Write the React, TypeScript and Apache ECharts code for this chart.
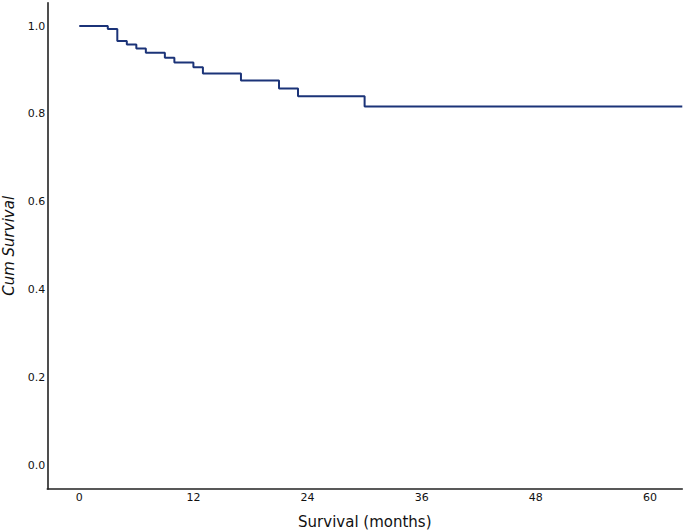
import React, { useEffect, useRef } from "react";
import * as echarts from "echarts";

const times = [0, 3, 4, 5, 6, 7, 9, 10, 12, 13, 17, 21, 23, 30, 63.4];
const survival = [1.0, 0.993, 0.966, 0.958, 0.949, 0.939, 0.928, 0.917, 0.906, 0.892, 0.876, 0.858, 0.84, 0.817, 0.817];
const xTicks = [0, 12, 24, 36, 48, 60];
const yTicks = [0, 0.2, 0.4, 0.6, 0.8, 1.0];

export default function App() {
  const ref = useRef<HTMLDivElement>(null);
  useEffect(() => {
    if (!ref.current) return;
    const chart = echarts.init(ref.current, null, { renderer: "svg" });
    const font = "DejaVu Sans";
    chart.setOption({
      animation: false,
      grid: { left: 47.3, right: 2.7, top: 2.7, bottom: 41, containLabel: false, outerBoundsMode: "none" },
      xAxis: {
        type: "value",
        min: -3.36,
        max: 63.4,
        name: "Survival (months)",
        nameLocation: "middle",
        nameGap: 25,
        nameTextStyle: { fontFamily: font, fontSize: 15, color: "#111" },
        axisLine: { show: true, onZero: false, lineStyle: { color: "#222", width: 1.6 } },
        axisTick: { show: false },
        splitLine: { show: false },
        axisLabel: {
          customValues: xTicks,
          fontFamily: font,
          fontSize: 11,
          color: "#111",
          margin: 3,
          formatter: (v: number) => String(v),
        },
      },
      yAxis: {
        type: "value",
        min: -0.053,
        max: 1.053,
        name: "Cum Survival",
        nameLocation: "middle",
        nameGap: 30,
        nameTextStyle: { fontFamily: font, fontSize: 15, fontStyle: "italic", color: "#111" },
        axisLine: { show: true, onZero: false, lineStyle: { color: "#222", width: 1.6 } },
        axisTick: { show: false },
        splitLine: { show: false },
        axisLabel: {
          customValues: yTicks,
          fontFamily: font,
          fontSize: 11,
          color: "#111",
          margin: 2,
          formatter: (v: number) => v.toFixed(1),
        },
      },
      series: [
        {
          type: "line",
          step: "end",
          symbol: "none",
          data: times.map((t, i) => [t, survival[i]]),
          lineStyle: { color: "#1b3378", width: 2 },
        },
      ],
    });
    return () => chart.dispose();
  }, []);
  return <div ref={ref} style={{ width: 685, height: 530, position: "absolute", left: 0, top: 0 }} />;
}
